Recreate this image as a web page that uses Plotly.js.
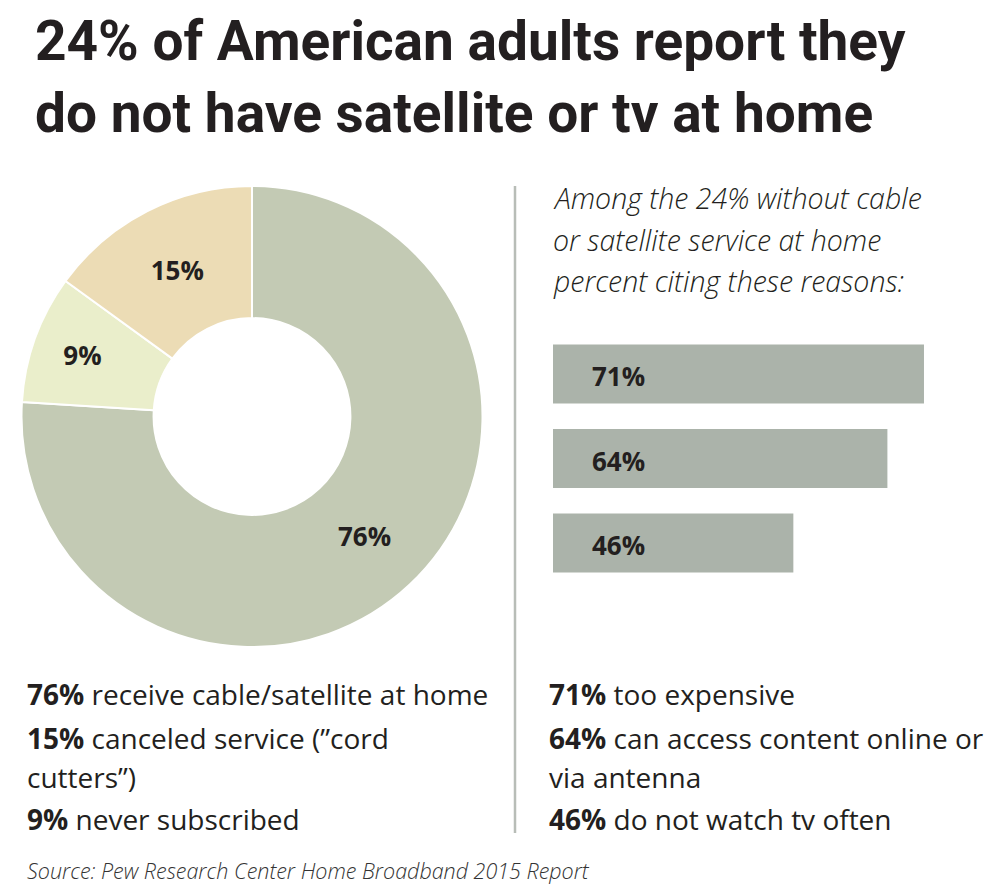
<!DOCTYPE html>
<html>
<head>
<meta charset="utf-8">
<script src="https://cdn.plot.ly/plotly-3.0.1.min.js"></script>
<style>html,body{margin:0;padding:0;background:#fff;}#chart{width:1000px;height:895px;}</style>
</head>
<body>
<div id="chart"></div>
<script>
// ---- data ----
const titleLines = ["24% of American adults report they", "do not have satellite or tv at home"];
const pieLabels = ["receive cable/satellite at home", "never subscribed", "canceled service"];
const pieValues = [76, 9, 15];
const pieColors = ["#c3cab4", "#eaeecb", "#ecdcb5"];
const subtitleLines = ["Among the 24% without cable", "or satellite service at home", "percent citing these reasons:"];
const reasonLabels = ["too expensive", "can access content online or via antenna", "do not watch tv often"];
const reasonValues = [71, 64, 46];
const leftNotes = [["76%", " receive cable/satellite at home"], ["15%", " canceled service (\u201dcord"], ["", "cutters\u201d)"], ["9%", " never subscribed"]];
const rightNotes = [["71%", " too expensive"], ["64%", " can access content online or"], ["", "via antenna"], ["46%", " do not watch tv often"]];
const sourceText = "Source: Pew Research Center Home Broadband 2015 Report";

// ---- layout helpers ----
const H = 895, W = 1000;
const py = y => 1 - y / H;
const px = x => x / W;
const TFONT = "Roboto, 'Open Sans', sans-serif";
const FONT = "'Open Sans', Roboto, sans-serif";
const INK = "#231f20";

const pie = {
  type: "pie",
  labels: pieLabels,
  values: pieValues,
  sort: false,
  direction: "clockwise",
  rotation: 0,
  hole: 0.427,
  marker: {colors: pieColors, line: {color: "#ffffff", width: 2}},
  texttemplate: "%{value}%",
  textposition: "inside",
  insidetextorientation: "horizontal",
  textfont: {family: FONT, size: 26, color: INK, weight: 700},
  domain: {x: [px(21.5), px(482.5)], y: [py(647), py(186)]},
  showlegend: false,
  hoverinfo: "label+value"
};

const bars = {
  type: "bar",
  orientation: "h",
  x: reasonValues,
  y: reasonLabels,
  width: 0.7,
  marker: {color: "#abb3aa"},
  xaxis: "x",
  yaxis: "y",
  showlegend: false,
  hoverinfo: "y+x"
};

const annotations = [];
// bar value labels
reasonValues.forEach((v, i) => {
  annotations.push({
    x: 0, y: reasonLabels[i], xref: "x", yref: "y",
    text: "<b>" + v + "%</b>", showarrow: false,
    xanchor: "left", yanchor: "middle", xshift: 37, yshift: -2,
    font: {family: FONT, size: 26, color: INK}
  });
});
// subtitle
const subY = [198, 240, 281];
subtitleLines.forEach((t, i) => {
  annotations.push({
    x: px(551), y: py(subY[i]), xref: "paper", yref: "paper",
    text: "<i>" + t + "</i>", showarrow: false,
    xanchor: "left", yanchor: "middle",
    font: {family: FONT, size: 28.5, color: INK, weight: 300}
  });
});
// notes
const noteY = [694, 738, 777, 819];
leftNotes.forEach((n, i) => {
  annotations.push({
    x: px(25), y: py(noteY[i]), xref: "paper", yref: "paper",
    text: (n[0] ? "<b>" + n[0] + "</b>" : "") + n[1], showarrow: false,
    xanchor: "left", yanchor: "middle",
    font: {family: FONT, size: 28, color: INK, weight: 400}
  });
});
rightNotes.forEach((n, i) => {
  annotations.push({
    x: px(547), y: py(noteY[i]), xref: "paper", yref: "paper",
    text: (n[0] ? "<b>" + n[0] + "</b>" : "") + n[1], showarrow: false,
    xanchor: "left", yanchor: "middle",
    font: {family: FONT, size: 28, color: INK, weight: 400}
  });
});
annotations.push({
  x: px(25), y: py(870), xref: "paper", yref: "paper",
  text: "<i>" + sourceText + "</i>", showarrow: false,
  xanchor: "left", yanchor: "middle",
  font: {family: FONT, size: 21.5, color: "#333333", weight: 300}
});

const layout = {
  width: W, height: H,
  margin: {l: 0, r: 0, t: 0, b: 0},
  paper_bgcolor: "#ffffff",
  plot_bgcolor: "rgba(0,0,0,0)",
  title: {
    text: "<b>" + titleLines.join("<br>") + "</b>",
    x: px(35), xanchor: "left", xref: "paper",
    y: py(60), yanchor: "top", yref: "container",
    font: {family: TFONT, size: 55, color: INK}
  },
  xaxis: {domain: [px(553), px(553 + 80 * 5.225)], range: [0, 80], visible: false, fixedrange: true},
  yaxis: {domain: [py(585.25), py(331.75)], range: [2.5, -0.5], type: "category", visible: false, fixedrange: true},
  shapes: [{
    type: "line", xref: "paper", yref: "paper",
    x0: px(515), x1: px(515), y0: py(186), y1: py(833),
    line: {color: "#b8bdb7", width: 2.5}
  }],
  annotations: annotations
};

Plotly.newPlot("chart", [pie, bars], layout, {displayModeBar: false, staticPlot: true});
</script>
</body>
</html>
